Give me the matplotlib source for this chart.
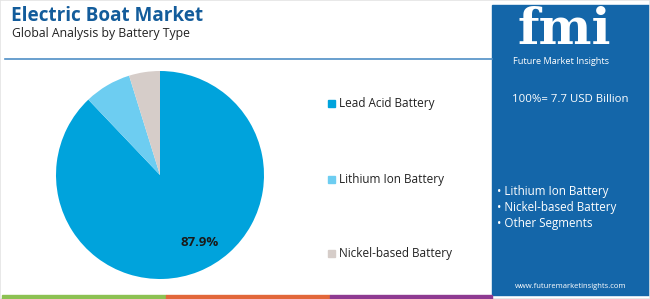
"""Pie chart: Electric Boat Market, global analysis by battery type."""

import matplotlib.pyplot as plt
from matplotlib.patches import Rectangle

W, H = 650, 299

segments = ["Lead Acid Battery", "Lithium Ion Battery", "Nickel-based Battery"]
shares = [87.9, 7.3, 4.8]
colors = ["#00A3DC", "#6DCDF1", "#D6CDC9"]
panel_bullets = ["Lithium Ion Battery", "Nickel-based Battery", "Other Segments"]
market_size = "100%= 7.7 USD Billion"

plt.rcParams["font.family"] = ["Open Sans", "DejaVu Sans"]


def fx(px):
    return px / W


def fy(py):
    return 1 - py / H


fig = plt.figure(figsize=(W / 100, H / 100), dpi=100)
fig.patch.set_facecolor("white")

# frame, header rule, right panel, bottom strip
fig.add_artist(Rectangle((0, 0), 1, 1, transform=fig.transFigure, fill=False,
                         edgecolor="#E4E4E4", linewidth=1.2))
fig.add_artist(plt.Line2D([fx(5), fx(492)], [fy(59), fy(59)], transform=fig.transFigure,
                          color="#4F8FC6", linewidth=1.2))
fig.add_artist(Rectangle((fx(492), fy(295)), fx(650 - 492), (295 - 5) / H,
                         transform=fig.transFigure, color="#1466A9", zorder=0))
for x0, x1, c in [(2, 166, "#8CC152"), (166, 330, "#E2673A"), (330, 492, "#8E3A91")]:
    fig.add_artist(Rectangle((fx(x0), 0), fx(x1 - x0), 4 / H,
                             transform=fig.transFigure, color=c))

fig.text(fx(11), fy(16), "Electric Boat Market", fontsize=13.6, fontweight="bold",
         color="#135C9B", va="center", ha="left")
fig.text(fx(12), fy(34), "Global Analysis by Battery Type", fontsize=8.8,
         color="#222222", va="center", ha="left")

# pie
ax = fig.add_axes([fx(56), fy(279), fx(208), 208 / H])
ax.pie(shares, colors=colors, startangle=90, counterclock=False, radius=1,
       wedgeprops=dict(linewidth=0))
ax.set_xlim(-1, 1)
ax.set_ylim(-1, 1)
ax.axis("off")
ax.text(0.38, -0.65, f"{shares[0]}%", ha="center", va="center", fontsize=9.5,
        fontweight="bold", color="#1a1a1a")

# legend
for label, c, py in zip(segments, colors, [103, 179, 253]):
    fig.add_artist(Rectangle((fx(328), fy(py + 3.5)), fx(7), 7 / H,
                             transform=fig.transFigure, color=c))
    fig.text(fx(339), fy(py), label, fontsize=8.5, color="#222222", va="center", ha="left")

# panel content
fig.text(fx(564), fy(31), "fmi", fontsize=36, fontweight="bold", family="DejaVu Serif",
         color="white", ha="center", va="center")
fig.text(fx(561), fy(61), "Future Market Insights", fontsize=6.6, color="white",
         ha="center", va="center")
fig.text(fx(570), fy(100), market_size, fontsize=8.2, color="white", ha="center", va="center")
for i, b in enumerate(panel_bullets):
    fig.text(fx(497), fy(192 + i * 16), "\u2022 " + b, fontsize=8.4, color="white",
             ha="left", va="center")
fig.text(fx(571), fy(286), "www.futuremarketinsights.com", fontsize=5.5, color="white",
         ha="center", va="center")

fig.savefig("out.png", dpi=100)
